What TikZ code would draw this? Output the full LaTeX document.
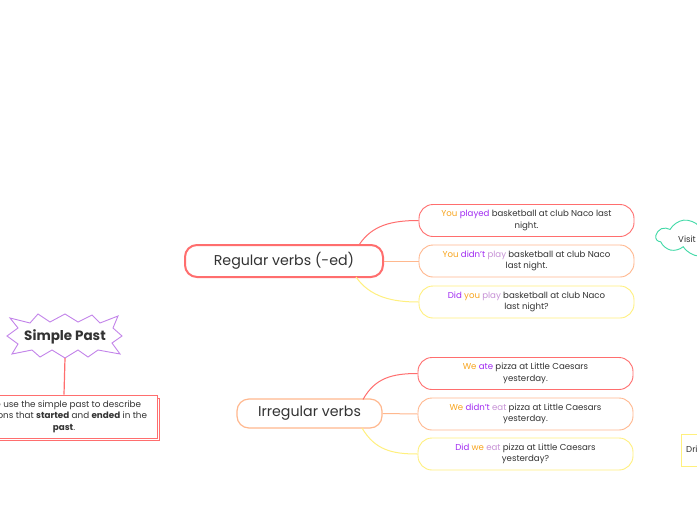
\documentclass[tikz,border=0pt]{standalone}
\usepackage{fontspec}
\setmainfont{Poppins}
\usetikzlibrary{shapes.symbols}
\definecolor{cred}{HTML}{FF6E6E}
\definecolor{corange}{HTML}{FFB88E}
\definecolor{cyellow}{HTML}{FFF07E}
\definecolor{cstar}{HTML}{C384EA}
\definecolor{cteal}{HTML}{3FD9A6}
\definecolor{ctext}{HTML}{333333}
\definecolor{wor}{HTML}{F8A51E}
\definecolor{wpu}{HTML}{A12BF2}
\definecolor{wlp}{HTML}{C792D6}
\tikzset{
  topic/.style={draw, rounded corners=12pt, minimum width=198pt, minimum height=32pt, text=ctext, font=\fontsize{14.2}{16}\selectfont, inner sep=0pt},
  leaf/.style={draw, line width=0.9pt, rounded corners=14pt, minimum width=215pt, minimum height=32pt, text=ctext, font=\fontsize{8.6}{11.5}\selectfont, align=center, inner sep=0pt},
  conn/.style={line width=1pt},
}
\newcommand{\Or}[1]{\textcolor{wor}{#1}}
\newcommand{\Pu}[1]{\textcolor{wpu}{#1}}
\newcommand{\Lp}[1]{\textcolor{wlp}{#1}}
\begin{document}
\begin{tikzpicture}[x=1pt,y=-1pt]
\useasboundingbox (0,0) rectangle (697,520);
\clip (0,0) rectangle (697,520);
\fill[white] (0,0) rectangle (697,520);

% Simple Past star
\draw[cstar, line width=0.9pt, fill=white] (7,336) -- (18,328) -- (10,318) -- (30,323) -- (38,314) -- (50,322) -- (65,314) -- (78,322) -- (92,315) -- (100,323) -- (118,316) -- (113,328) -- (122,336) -- (112,343) -- (120,354) -- (98,350) -- (88,357) -- (78,350) -- (65,358) -- (52,350) -- (40,357) -- (32,350) -- (12,354) -- (18,344) -- cycle;
\node[text=ctext, font=\fontsize{13.5}{15}\selectfont\bfseries] (sp) at (65,336.5) {Simple Past};
\coordinate (spb) at (65,358);

% description box
\draw[cred, line width=0.9pt, fill=white] (-26,398) rectangle (159.5,440.5);
\node[draw=cred, line width=0.9pt, fill=white, minimum width=186pt, minimum height=43pt, inner sep=0pt, text=ctext, font=\fontsize{8.8}{11.5}\selectfont, align=center] (desc) at (64,416.5)
 {We use the simple past to describe\\actions that \textbf{started} and \textbf{ended} in the\\\textbf{past}.};
\draw[cred, line width=1.2pt] (spb) -- (desc.north);

% Regular verbs
\node[topic, draw=cred, line width=2pt] (reg) at (284,261) {Regular verbs (-ed)};
\node[leaf, draw=cred] (r1) at (526.5,220.5) {\Or{You} \Pu{played} basketball at club Naco last\\night.};
\node[leaf, draw=corange] (r2) at (526.5,261) {\Or{You} \Pu{didn't} \Lp{play} basketball at club Naco\\last night.};
\node[leaf, draw=cyellow] (r3) at (526.5,302) {\Pu{Did} \Or{you} \Lp{play} basketball at club Naco\\last night?};
\coordinate (rt) at (359,245);
\coordinate (rb) at (356,277);
\draw[conn, cred] (rt) .. controls (372,225) and (392,220.5) .. (r1.west);
\draw[conn, corange] (reg.east) -- (r2.west);
\draw[conn, cyellow] (rb) .. controls (370,297) and (392,302) .. (r3.west);

% Irregular verbs
\node[topic, draw=corange, line width=1.2pt, minimum width=145pt, minimum height=29pt] (irr) at (309.5,413.5) {Irregular verbs};
\node[leaf, draw=cred] (i1) at (525.5,373.5) {\Or{We} \Pu{ate} pizza at Little Caesars\\yesterday.};
\node[leaf, draw=corange] (i2) at (525.5,414) {\Or{We} \Pu{didn't} \Lp{eat} pizza at Little Caesars\\yesterday.};
\node[leaf, draw=cyellow] (i3) at (525.5,454) {\Pu{Did} \Or{we} \Lp{eat} pizza at Little Caesars\\yesterday?};
\coordinate (it) at (363,399.5);
\coordinate (ib) at (362,428);
\draw[conn, cred] (it) .. controls (375,378) and (392,373.5) .. (i1.west);
\draw[conn, corange] (irr.east) -- (i2.west);
\draw[conn, cyellow] (ib) .. controls (375,450) and (392,454) .. (i3.west);

% partial nodes at right edge
\node[cloud, cloud puffs=11, cloud puff arc=110, aspect=3, draw=cteal, line width=0.9pt, minimum width=120pt, minimum height=40pt, inner sep=0pt] (cl) at (716,237) {};
\node[anchor=west, text=ctext, font=\fontsize{8.6}{10}\selectfont, inner sep=0pt] (vt) at (678,239) {Visit};
\node[draw=cyellow, line width=0.9pt, minimum width=60pt, minimum height=32pt, inner sep=0pt] (dr) at (711,450) {};
\node[anchor=west, text=ctext, font=\fontsize{8.6}{10}\selectfont, inner sep=0pt] (dt) at (686,449) {Dri};
\end{tikzpicture}
\end{document}
